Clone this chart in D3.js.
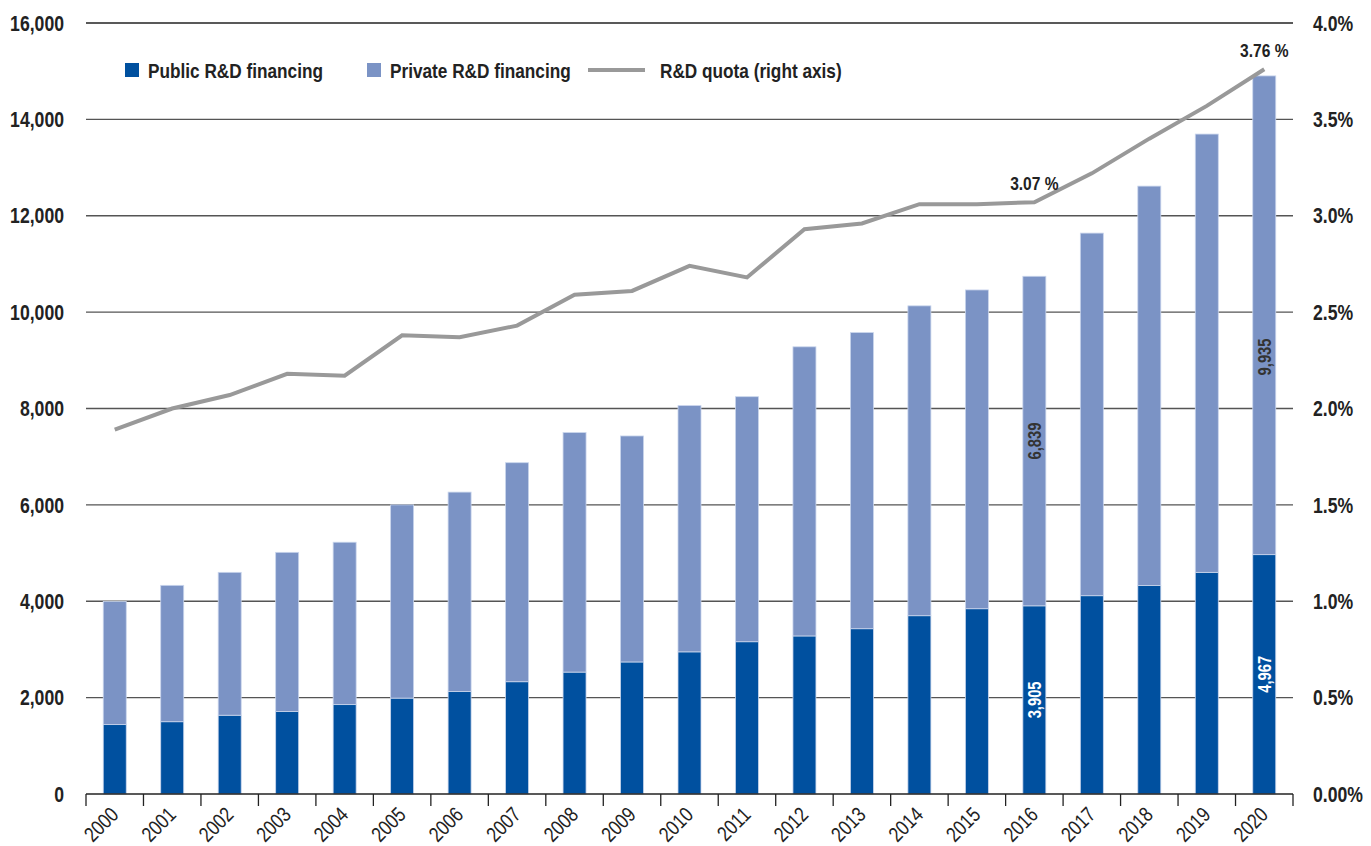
<!DOCTYPE html>
<html>
<head>
  <meta charset="UTF-8">
  <title>R&amp;D financing</title>
  <script src="https://d3js.org/d3.v7.min.js"></script>
  <style>
    body { margin: 0; background: #fff; }
    svg { display: block; font-family: "Liberation Sans", Arial, sans-serif; }
  </style>
</head>
<body>
    <svg></svg>

    <script>
        // data (EUR million / percent of GDP)
        let years = d3.range(2000, 2021).map(String);
        let publicFin = [1440, 1500, 1635, 1710, 1855, 1990, 2125, 2330, 2530, 2740,
                         2950, 3160, 3280, 3430, 3700, 3845, 3905, 4115, 4325, 4600, 4967];
        let privateFin = [2555, 2830, 2965, 3305, 3370, 4010, 4140, 4545, 4970, 4690,
                          5110, 5085, 6000, 6145, 6430, 6615, 6839, 7525, 8290, 9095, 9935];
        let quota = [1.89, 2.00, 2.07, 2.18, 2.17, 2.38, 2.37, 2.43, 2.59, 2.61,
                     2.74, 2.68, 2.93, 2.96, 3.06, 3.06, 3.07, 3.22, 3.40, 3.57, 3.76];
        let leftTicks = [0, 2000, 4000, 6000, 8000, 10000, 12000, 14000, 16000];
        let rightTicks = [0, 0.5, 1, 1.5, 2, 2.5, 3, 3.5, 4];
        let quotaNotes = ["2016", "2020"];

        let width = 1371, height = 846;
        let plotL = 86, plotR = 1293, plotT = 23, plotB = 794;
        let narrow = " scale(0.82,1)";   // no condensed font installed, squeeze instead
        let svg = d3.select("svg").attr("width", width).attr("height", height);

        let x = d3.scaleBand().domain(years).range([plotL, plotR])
            .paddingInner(0.6).paddingOuter(0.3);
        let y = d3.scaleLinear().domain([0, 16000]).range([plotB, plotT]);
        let y2 = d3.scaleLinear().domain([0, 4]).range([plotB, plotT]);
        let cx = yr => x(yr) + x.bandwidth() / 2;

        let rows = years.map((yr, i) => ({year: yr, pub: publicFin[i], priv: privateFin[i], q: quota[i]}));

        // gridlines
        svg.append("g").selectAll("line")
            .data(leftTicks.filter(d => d > 0))
            .enter().append("line")
            .attr("x1", plotL).attr("x2", plotR)
            .attr("y1", d => y(d)).attr("y2", d => y(d))
            .attr("stroke", d => d == 16000 ? "#222" : "#555").attr("stroke-width", 1.4);

        // stacked bars
        let bars = svg.append("g");
        bars.selectAll(".pub").data(rows).enter().append("rect")
            .attr("x", d => x(d.year)).attr("width", x.bandwidth())
            .attr("y", d => y(d.pub)).attr("height", d => y(0) - y(d.pub))
            .attr("fill", "#00509f").attr("stroke", "#c9d5ec").attr("stroke-width", 0.8);
        bars.selectAll(".priv").data(rows).enter().append("rect")
            .attr("x", d => x(d.year)).attr("width", x.bandwidth())
            .attr("y", d => y(d.pub + d.priv)).attr("height", d => y(d.pub) - y(d.pub + d.priv))
            .attr("fill", "#7b93c5").attr("stroke", "#c9d5ec").attr("stroke-width", 0.8);

        // baseline with category ticks
        svg.append("line").attr("x1", plotL).attr("x2", plotR)
            .attr("y1", plotB).attr("y2", plotB)
            .attr("stroke", "#222").attr("stroke-width", 1.5);
        svg.append("g").selectAll("line")
            .data(d3.range(years.length + 1))
            .enter().append("line")
            .attr("x1", i => plotL + i * x.step()).attr("x2", i => plotL + i * x.step())
            .attr("y1", plotB).attr("y2", plotB + 12)
            .attr("stroke", "#222").attr("stroke-width", 1.3);

        // x labels
        svg.append("g").selectAll("text").data(years).enter().append("text")
            .attr("transform", d => "translate(" + (cx(d) + 5) + "," + (plotB + 22) + ") rotate(-45)" + narrow)
            .attr("text-anchor", "end")
            .style("font-size", "21px").style("fill", "#222")
            .text(d => d);

        // left axis labels
        svg.append("g").selectAll("text").data(leftTicks).enter().append("text")
            .attr("transform", d => "translate(64," + y(d) + ")" + narrow)
            .attr("dy", "0.36em")
            .attr("text-anchor", "end")
            .style("font-size", "21.5px").style("font-weight", "bold").style("fill", "#222")
            .text(d => d3.format(",")(d));

        // right axis labels
        svg.append("g").selectAll("text").data(rightTicks).enter().append("text")
            .attr("transform", d => "translate(1313," + y2(d) + ")" + narrow)
            .attr("dy", "0.36em")
            .style("font-size", "21.5px").style("font-weight", "bold").style("fill", "#222")
            .text(d => d === 0 ? "0.00%" : d.toFixed(1) + "%");

        // quota line
        let line = d3.line()
            .x(d => cx(d.year))
            .y(d => y2(d.q));
        svg.append("path").datum(rows)
            .attr("d", line)
            .attr("fill", "none").attr("stroke", "#999").attr("stroke-width", 4)
            .attr("stroke-linejoin", "miter");

        // quota notes
        svg.append("g").selectAll("text")
            .data(rows.filter(d => quotaNotes.includes(d.year)))
            .enter().append("text")
            .attr("transform", d => "translate(" + cx(d.year) + "," + (y2(d.q) - 12) + ")" + narrow)
            .attr("text-anchor", "middle")
            .style("font-size", "19px").style("font-weight", "bold").style("fill", "#222")
            .text(d => d.q.toFixed(2) + " %");

        // value labels inside bars
        let valueLabels = [
            {year: "2016", v: 3905, pos: 3905 / 2, color: "#fff"},
            {year: "2016", v: 6839, pos: 3905 + 6839 / 2, color: "#333"},
            {year: "2020", v: 4967, pos: 4967 / 2, color: "#fff"},
            {year: "2020", v: 9935, pos: 9070, color: "#333"}
        ];
        svg.append("g").selectAll("text").data(valueLabels).enter().append("text")
            .attr("transform", d => "translate(" + cx(d.year) + "," + y(d.pos) + ") rotate(-90)" + narrow)
            .attr("text-anchor", "middle").attr("dy", "0.36em")
            .style("font-size", "18px").style("font-weight", "bold").style("fill", d => d.color)
            .text(d => d3.format(",")(d.v));

        // legend
        let legend = svg.append("g").attr("transform", "translate(125,70)");
        let items = [
            {label: "Public R&D financing", color: "#00509f", x: 0, kind: "box"},
            {label: "Private R&D financing", color: "#7b93c5", x: 242, kind: "box"},
            {label: "R&D quota (right axis)", color: "#999", x: 463, kind: "line"}
        ];
        items.forEach(it => {
            let g = legend.append("g").attr("transform", "translate(" + it.x + ",0)");
            let tx = 23;
            if (it.kind == "box") {
                g.append("rect").attr("x", 0).attr("y", -7).attr("width", 14).attr("height", 14).attr("fill", it.color);
            } else {
                g.append("line").attr("x1", 0).attr("x2", 57).attr("stroke", it.color).attr("stroke-width", 4);
                tx = 72;
            }
            g.append("text").attr("transform", "translate(" + tx + ",0)" + narrow)
                .attr("dy", "0.36em")
                .style("font-size", "21px").style("font-weight", "bold").style("fill", "#222")
                .text(it.label);
        });
    </script>
</body>
</html>
